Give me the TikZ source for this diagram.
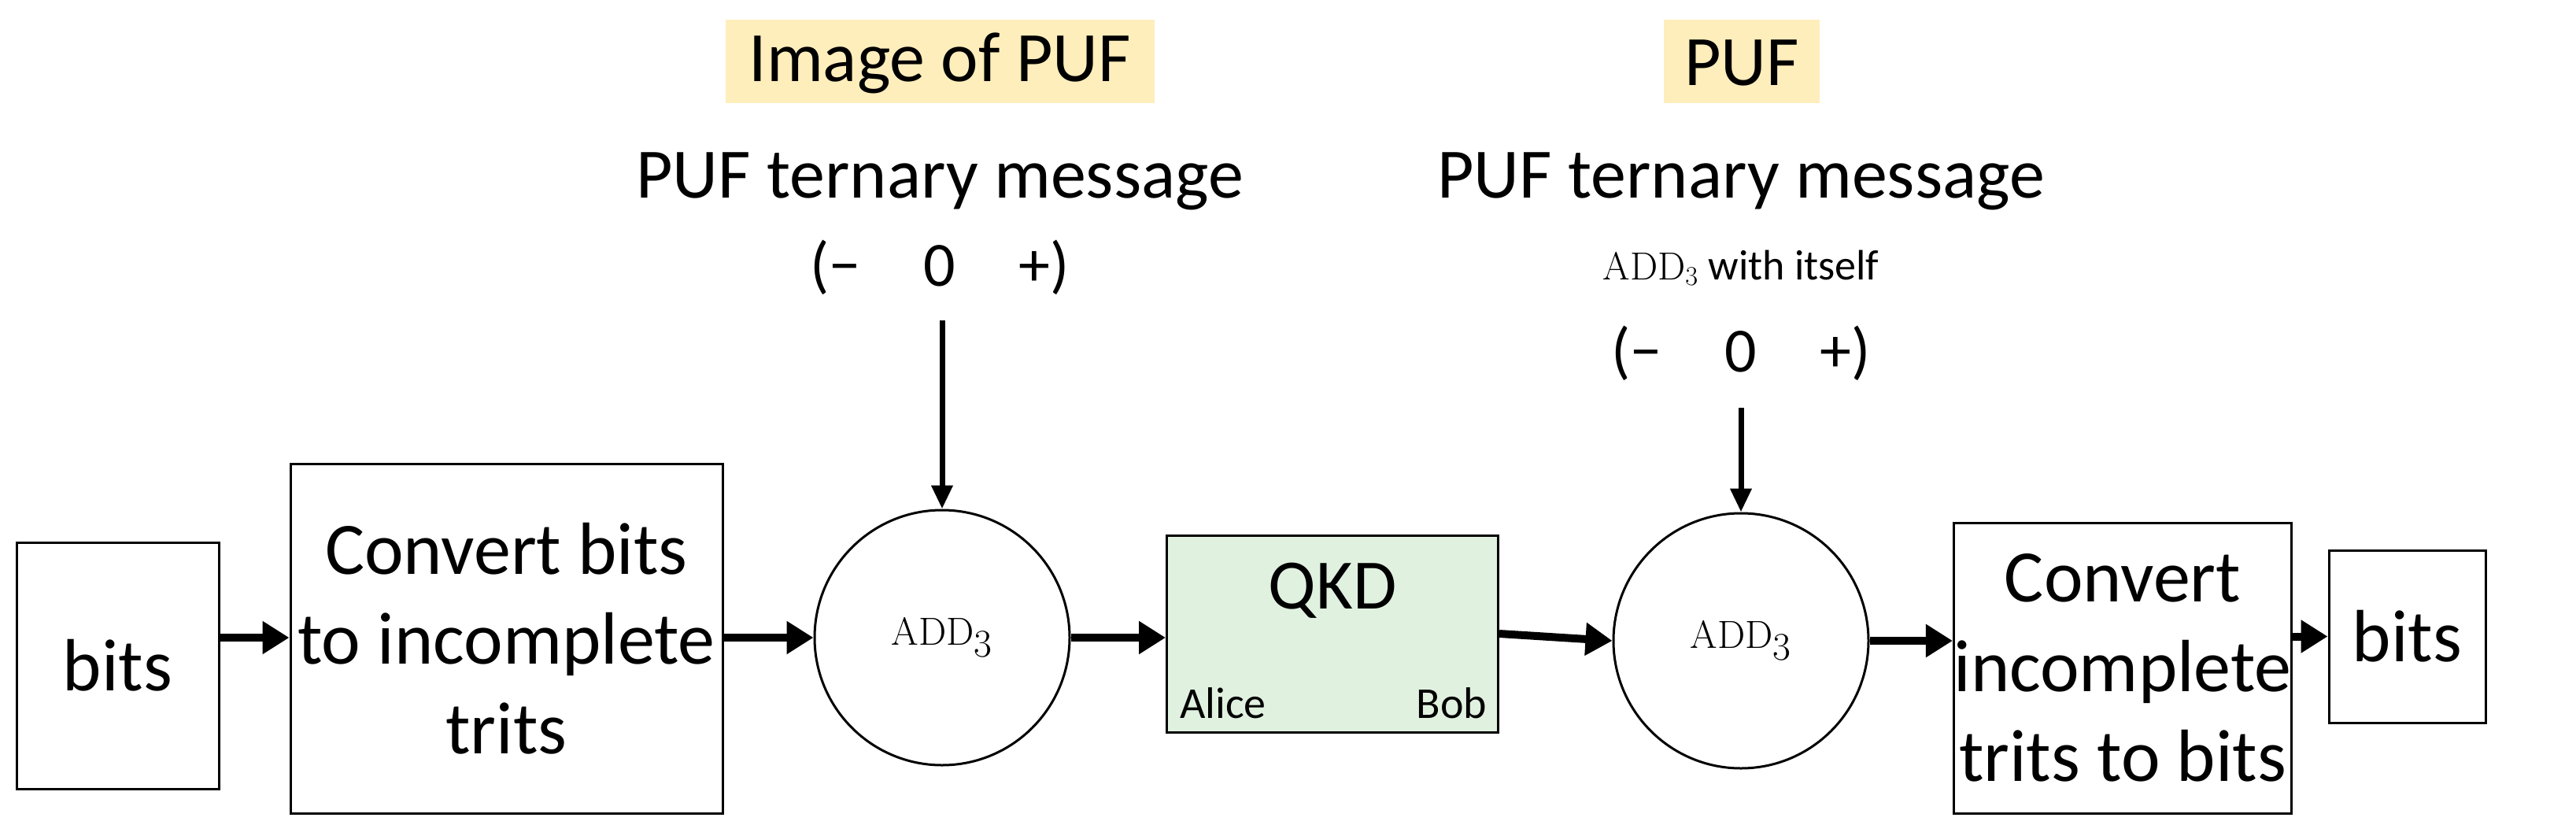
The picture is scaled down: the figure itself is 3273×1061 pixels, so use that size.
\documentclass[tikz,border=0pt]{standalone}
\usepackage[no-math]{fontspec}
\setmainfont{Carlito}
\usetikzlibrary{arrows.meta}
\begin{document}
\begin{tikzpicture}[x=0.5pt,y=-0.5pt,
  box/.style={draw,line width=1.5pt,inner sep=0pt,align=center,font=\fontsize{47}{57}\selectfont},
  circ/.style={draw,line width=1.5pt,circle,minimum size=162pt,inner sep=0pt,font=\fontsize{52}{60}\selectfont},
  big/.style={-{Triangle[length=17pt,width=20pt]},line width=5pt},
  down/.style={-{Triangle[length=15pt,width=13pt]},line width=3.5pt},
  lab/.style={font=\fontsize{45}{54}\selectfont},
  hl/.style={fill=yellow!55!orange!25,minimum height=53pt,inner sep=0pt}]
\useasboundingbox (0,0) rectangle (3273,1061);
\node[box,minimum width=128.5pt,minimum height=156.5pt] (b1) at (149.5,845.5) {bits};
\node[box,minimum width=274.5pt,minimum height=222pt] (c1) at (643.5,811) {Convert bits\\to incomplete\\trits};
\node[circ] (a1) at (1197,810) {$\mathrm{ADD}_3$};
\node[box,fill=green!55!black!12,minimum width=210.5pt,minimum height=125pt] (q) at (1693,805) {};
\node[font=\fontsize{45}{54}\selectfont] (qt) at (1693,750) {QKD};
\node[font=\fontsize{28}{34}\selectfont,anchor=south west] (al) at (1492,920) {Alice};
\node[font=\fontsize{28}{34}\selectfont,anchor=south east] (bo) at (1896,920) {Bob};
\node[circ] (a2) at (2212,814) {$\mathrm{ADD}_3$};
\node[box,minimum width=214pt,minimum height=184.5pt] (c2) at (2697,848.5) {Convert\\incomplete\\trits to bits};
\node[box,minimum width=99.5pt,minimum height=109.5pt] (b2) at (3058.5,808.5) {bits};
\node[hl,minimum width=272.5pt] (h1) at (1194,78) {};
\node[lab] (t1) at (1194,80) {Image of PUF};
\node[lab] (m1) at (1194,230) {PUF ternary message};
\node[font=\fontsize{40}{48}\selectfont] (p1) at (1194,340) {(−\hspace{1em}0\hspace{1em}+)};
\node[hl,minimum width=99pt] (h2) at (2213,78) {};
\node[lab] (t2) at (2213,80) {PUF};
\node[lab] (m2) at (2212,230) {PUF ternary message};
\node[font=\fontsize{27}{32}\selectfont] (w2) at (2212,340) {$\mathrm{ADD}_3$ with itself};
\node[font=\fontsize{40}{48}\selectfont] (p2) at (2212,449) {(−\hspace{1em}0\hspace{1em}+)};
\coordinate (s1) at (1197,407);
\coordinate (s2) at (2212,518);
\draw[big] (b1.east|-a1) -- (c1.west|-a1);
\draw[big] (c1.east|-a1) -- (a1.west);
\draw[big] (a1) -- (q.west|-a1);
\draw[big] (q.east) -- (a2.west);
\draw[big] (a2) -- (c2.west|-a2);
\draw[big] (c2.east|-b2) -- (b2);
\draw[down] (s1) -- (a1.north);
\draw[down] (s2) -- (a2.north);
\end{tikzpicture}
\end{document}
